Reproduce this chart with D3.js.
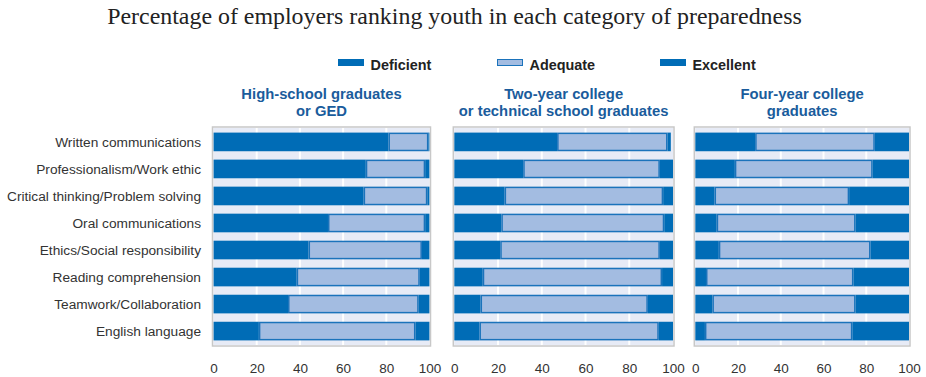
<!DOCTYPE html>
<html>
<head>
<meta charset="utf-8">
<script src="https://cdn.jsdelivr.net/npm/d3@7/dist/d3.min.js"></script>
<style>
  html, body { margin: 0; padding: 0; background: #fff; }
  svg { display: block; }
  text { font-family: "Liberation Sans", Arial, sans-serif; }
</style>
</head>
<body>
<svg id="chart" width="926" height="377"></svg>
<script>
// Skills rated by employers, top to bottom
const categories = [
  "Written communications",
  "Professionalism/Work ethic",
  "Critical thinking/Problem solving",
  "Oral communications",
  "Ethics/Social responsibility",
  "Reading comprehension",
  "Teamwork/Collaboration",
  "English language"
];

// Education level of the new entrants (panel headers)
const groups = [
  ["High-school graduates", "or GED"],
  ["Two-year college", "or technical school graduates"],
  ["Four-year college", "graduates"]
];

const seriesNames = ["Deficient", "Adequate", "Excellent"];

// Percent of employers per rating, one row per group, in category order
const deficient = [
  [81, 70.5, 69.5, 53, 44, 38.5, 34.5, 21],
  [47, 31.5, 23, 21.5, 21, 13, 12, 11.5],
  [28, 18.5, 9, 10, 11, 5, 8, 4.5]
];
const adequate = [
  [18.5, 27.5, 29.5, 45, 52.5, 57, 60.5, 72.5],
  [50.5, 62.5, 72.5, 74.5, 73, 82, 76.5, 82],
  [56, 64.5, 63, 65, 71, 69, 67, 69]
];
const excellent = [
  [0.5, 2, 1, 2, 3.5, 4.5, 5, 6.5],
  [1.5, 6, 4.5, 4, 6, 5, 11.5, 6.5],
  [16, 17, 28, 25, 18, 26, 25, 26.5]
];

const xTicks = [0, 20, 40, 60, 80, 100];

const DARK = "#006cb6";
const LIGHT = "#a3bce1";
const EDGE = "#1b73bb";
const HEAD = "#1a5c9c";

const svg = d3.select("#chart");

// Title
svg.append("text")
  .attr("x", 454.5).attr("y", 24)
  .attr("text-anchor", "middle")
  .style("font-family", "'Liberation Serif', 'Times New Roman', serif")
  .style("font-size", "23.9px")
  .attr("fill", "#222")
  .text("Percentage of employers ranking youth in each category of preparedness");

// Legend
const legendX = [338, 497, 660];
seriesNames.forEach((name, i) => {
  const g = svg.append("g").attr("transform", `translate(${legendX[i]},59)`);
  g.append("rect")
    .attr("x", i === 1 ? 0.5 : 0).attr("y", i === 1 ? 0.5 : 0)
    .attr("width", i === 1 ? 25 : 26).attr("height", i === 1 ? 6 : 7)
    .attr("fill", i === 1 ? LIGHT : DARK)
    .attr("stroke", i === 1 ? EDGE : "none");
  g.append("text")
    .attr("x", 32.5).attr("y", 10.5)
    .style("font-size", "14.4px").style("font-weight", "bold")
    .attr("fill", "#222")
    .text(name);
});

// Panel placement
const panels = [
  { x0: 213.5, x1: 429.5 },
  { x0: 454.3, x1: 673 },
  { x0: 695.3, x1: 909 }
];
const yTop = 128, yBot = 345;

const y = d3.scaleBand()
  .domain(categories)
  .range([yTop, yBot])
  .paddingInner(0.31)
  .paddingOuter(0.17);

// Category labels
svg.append("g").selectAll("text")
  .data(categories)
  .join("text")
  .attr("x", 201)
  .attr("y", d => y(d) + y.bandwidth() / 2)
  .attr("dy", "0.35em")
  .attr("text-anchor", "end")
  .style("font-size", "13.7px")
  .attr("fill", "#333")
  .text(d => d);

groups.forEach((hdr, gi) => {
  const p = panels[gi];
  const x = d3.scaleLinear().domain([0, 100]).range([p.x0, p.x1]);
  const g = svg.append("g");

  // panel background
  g.append("rect")
    .attr("x", x(0)).attr("y", yTop)
    .attr("width", x(100) - x(0)).attr("height", yBot - yTop)
    .attr("fill", "#e7ebf6");

  // vertical gridlines
  g.append("g").selectAll("line")
    .data(xTicks.slice(1, -1))
    .join("line")
    .attr("x1", d => x(d)).attr("x2", d => x(d))
    .attr("y1", yTop).attr("y2", yBot)
    .attr("stroke", "#fff").attr("stroke-width", 2);

  // stacked bars
  const rows = categories.map((c, i) => {
    const d = deficient[gi][i], a = adequate[gi][i], e = excellent[gi][i];
    return { c, segs: [[0, d], [d, d + a], [d + a, d + a + e]] };
  });
  rows.forEach(r => {
    r.segs.forEach((s, si) => {
      if (s[1] - s[0] <= 0) return;
      g.append("rect")
        .attr("x", x(s[0]) + (si === 1 ? 0.75 : 0))
        .attr("y", y(r.c) + (si === 1 ? 0.75 : 0))
        .attr("width", Math.max(0, x(s[1]) - x(s[0]) - (si === 1 ? 1.5 : 0)))
        .attr("height", y.bandwidth() - (si === 1 ? 1.5 : 0))
        .attr("fill", si === 1 ? LIGHT : DARK)
        .attr("stroke", si === 1 ? EDGE : "none")
        .attr("stroke-width", 1.5);
    });
  });

  // frame
  g.append("rect")
    .attr("x", x(0) - 1).attr("y", yTop - 1)
    .attr("width", x(100) - x(0) + 2).attr("height", yBot - yTop + 2)
    .attr("fill", "none").attr("stroke", "#c8c8c8").attr("stroke-width", 1.5);

  // x axis
  const axis = d3.axisBottom(x).tickValues(xTicks).tickSize(0).tickPadding(0);
  const ax = g.append("g")
    .attr("transform", `translate(0,${yBot})`)
    .call(axis);
  ax.select(".domain").remove();
  ax.selectAll("text")
    .attr("y", 28)
    .attr("dy", 0)
    .style("font-size", "13.5px")
    .style("font-family", "'Liberation Sans', Arial, sans-serif")
    .attr("fill", "#333");

  // header
  const cx = (x(0) + x(100)) / 2;
  hdr.forEach((line, li) => {
    g.append("text")
      .attr("x", cx).attr("y", 99 + li * 17)
      .attr("text-anchor", "middle")
      .style("font-size", "14.8px").style("font-weight", "bold")
      .attr("fill", HEAD)
      .text(line);
  });
});
</script>
</body>
</html>
